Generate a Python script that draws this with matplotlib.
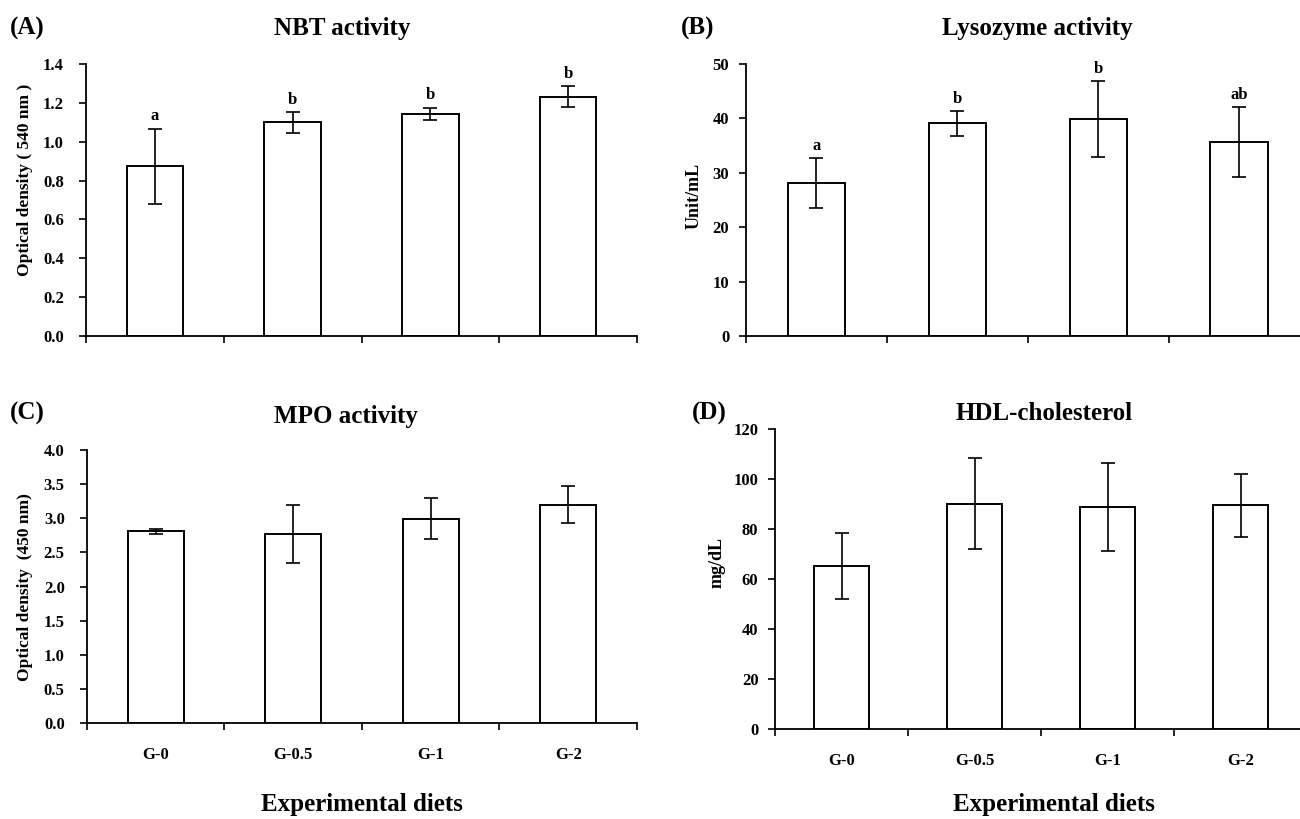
import numpy as np
import matplotlib.pyplot as plt

plt.rcParams['font.family'] = ['Liberation Serif', 'DejaVu Serif']
plt.rcParams['font.weight'] = 'bold'

diets = ['G-0', 'G-0.5', 'G-1', 'G-2']

nbt = [0.873, 1.100, 1.145, 1.232]
nbt_err = [0.195, 0.054, 0.031, 0.053]
nbt_letters = ['a', 'b', 'b', 'b']

lysozyme = [28.1, 39.1, 39.9, 35.7]
lysozyme_err = [4.6, 2.3, 7.0, 6.45]
lysozyme_letters = ['a', 'b', 'b', 'ab']

mpo = [2.807, 2.768, 2.993, 3.198]
mpo_err = [0.04, 0.42, 0.30, 0.27]

hdl = [65.2, 90.0, 88.9, 89.4]
hdl_err = [13.3, 18.2, 17.6, 12.65]

fig = plt.figure(figsize=(13, 8.19), dpi=100)

boxes = {
    'A': [0.0662, 0.5897, 0.4238, 0.3321],
    'B': [0.5738, 0.5897, 0.4338, 0.3321],
    'C': [0.0669, 0.1172, 0.4231, 0.3333],
    'D': [0.5962, 0.1099, 0.4092, 0.3663],
}


def draw_panel(ax, values, errors, ymax, ystep, yfmt, pad, letters=None, xlabels=False):
    x = np.arange(len(values))
    ax.bar(x, values, width=0.41, color='white', edgecolor='black', linewidth=1.4, zorder=2)
    ax.errorbar(x, values, yerr=errors, fmt='none', ecolor='black', elinewidth=1.2,
                capsize=5, capthick=1.2, zorder=3)
    ax.set_xlim(-0.5, 3.5)
    ax.set_ylim(0, ymax)
    ticks = np.arange(0, ymax + ystep / 2, ystep)
    ax.set_yticks(ticks)
    ax.set_yticklabels([yfmt.format(v) for v in ticks])
    ax.set_xticks(np.arange(-0.5, 4.0, 1.0))
    ax.set_xticklabels([])
    ax.spines['top'].set_visible(False)
    ax.spines['right'].set_visible(False)
    ax.spines['left'].set_linewidth(1.3)
    ax.spines['bottom'].set_linewidth(1.3)
    ax.tick_params(axis='y', direction='out', length=5, width=1.2, pad=pad, labelsize=12)
    ax.tick_params(axis='x', which='major', direction='out', length=5, width=1.2)
    if xlabels:
        ax.set_xticks(x, minor=True)
        ax.set_xticklabels(diets, minor=True)
        ax.tick_params(axis='x', which='minor', length=0, pad=17, labelsize=12)
    if letters:
        for xi, v, e, t in zip(x, values, errors, letters):
            ax.annotate(t, (xi, v + e), xytext=(0, 3), textcoords='offset points',
                        ha='center', va='bottom', fontsize=12, fontweight='bold')


axA = fig.add_axes(boxes['A'])
draw_panel(axA, nbt, nbt_err, 1.4, 0.2, '{:.1f}', 11, nbt_letters)
axB = fig.add_axes(boxes['B'])
draw_panel(axB, lysozyme, lysozyme_err, 50, 10, '{:.0f}', 7, lysozyme_letters)
axC = fig.add_axes(boxes['C'])
draw_panel(axC, mpo, mpo_err, 4.0, 0.5, '{:.1f}', 11, xlabels=True)
axD = fig.add_axes(boxes['D'])
draw_panel(axD, hdl, hdl_err, 120, 20, '{:.0f}', 7, xlabels=True)

H = 819.0
W = 1300.0


def ftext(px, py, s, **kw):
    fig.text(px / W, 1 - py / H, s, fontweight='bold', **kw)


# panel letters and titles
ftext(10, 28, '(A)', fontsize=18, ha='left', va='center')
ftext(342, 28, 'NBT activity', fontsize=18, ha='center', va='center')
ftext(681, 28, '(B)', fontsize=18, ha='left', va='center')
ftext(1037, 28, 'Lysozyme activity', fontsize=18, ha='center', va='center')
ftext(10, 413, '(C)', fontsize=18, ha='left', va='center')
ftext(346, 417, 'MPO activity', fontsize=18, ha='center', va='center')
ftext(692, 413, '(D)', fontsize=18, ha='left', va='center')
ftext(1044, 413, 'HDL-cholesterol', fontsize=18, ha='center', va='center')

# y labels
ftext(25, 180, 'Optical density ( 540 nm )', fontsize=12.5, rotation=90, ha='center', va='center')
ftext(694, 196, 'Unit/mL', fontsize=13, rotation=90, ha='center', va='center')
ftext(25, 587, 'Optical density  (450 nm)', fontsize=12.5, rotation=90, ha='center', va='center')
ftext(717, 563, 'mg/dL', fontsize=13, rotation=90, ha='center', va='center')

# x labels
ftext(362, 805, 'Experimental diets', fontsize=18, ha='center', va='center')
ftext(1054, 805, 'Experimental diets', fontsize=18, ha='center', va='center')

fig.savefig('out.png', dpi=100)
